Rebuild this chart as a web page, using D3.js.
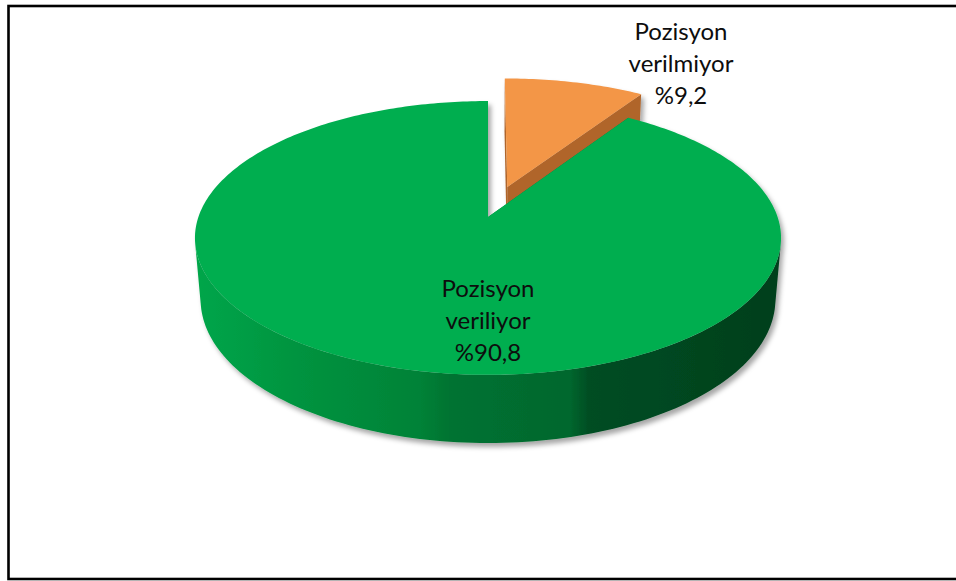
<!DOCTYPE html>
<html>
<head>
<meta charset="utf-8">
<script src="https://cdn.jsdelivr.net/npm/d3@7"></script>
<style>
  html, body { margin: 0; padding: 0; background: #fff; }
  svg { display: block; }
</style>
</head>
<body>
<svg id="chart" width="956" height="581"></svg>
<script>
// Share of answers, in draw order (clockwise from 12 o'clock)
const categories = ["Pozisyon verilmiyor", "Pozisyon veriliyor"];
const nameLines = [["Pozisyon", "verilmiyor"], ["Pozisyon", "veriliyor"]];
const values = [9.2, 90.8];
const exploded = [true, false];

const W = 956, H = 581;
const svg = d3.select("#chart");

// Colours per slice: top face, radial cut face, outer side
const topColor = ["#F39646", "#00AE50"];
const cutColor = ["#B0652C", "#007A36"];

// 3D disc geometry with a simple perspective camera
const geo = {
  cx: 488, cy: 217,      // screen position of the disc centre
  R: 289.6,              // disc radius
  tilt: Math.asin(0.4617),
  dist: 1679,            // camera distance
  depth: 70,             // disc thickness
  explode: 70            // pull-out distance of exploded slice
};
const ct = Math.cos(geo.tilt), st = Math.sin(geo.tilt);

// world (u: right, v: toward viewer, w: up) -> screen
function proj(u, v, w) {
  const d = v * ct + w * st;
  const s = geo.dist / (geo.dist - d);
  return [geo.cx + u * s, geo.cy + (v * st - w * ct) * s];
}
// point on the disc at angle a (clockwise from 12 o'clock), radius r, height w
function pt(a, r, w, off) {
  return proj(off[0] + r * Math.sin(a), off[1] - r * Math.cos(a), w);
}

const pie = d3.pie().sort(null).value(d => d).startAngle(0).endAngle(2 * Math.PI);
const arcs = pie(values);

const line = d3.line();

// outer frame
svg.append("rect")
  .attr("x", 8.5).attr("y", 6)
  .attr("width", 955).attr("height", 573)
  .attr("fill", "none").attr("stroke", "#000").attr("stroke-width", 2.6);

const defs = svg.append("defs");
const f = defs.append("filter").attr("id", "shadow")
  .attr("x", "-10%").attr("y", "-10%").attr("width", "120%").attr("height", "130%");
f.append("feDropShadow")
  .attr("dx", 3).attr("dy", 4).attr("stdDeviation", 2.5)
  .attr("flood-color", "#000").attr("flood-opacity", 0.35);

// shading along the green outer side, light on the left, dark on the right
const sideGrad = defs.append("linearGradient").attr("id", "sideGreen")
  .attr("gradientUnits", "userSpaceOnUse")
  .attr("x1", 195).attr("x2", 781).attr("y1", 0).attr("y2", 0);
[[0, "#00A64A"], [0.18, "#00933F"], [0.384, "#008237"], [0.435, "#007331"],
 [0.64, "#00672E"], [0.672, "#004D23"], [1, "#003F1C"]]
  .forEach(([o, c]) => sideGrad.append("stop").attr("offset", o).attr("stop-color", c));
const sideFill = ["#B0652C", "url(#sideGreen)"];

const pieG = svg.append("g").attr("filter", "url(#shadow)");

// outer side is visible where cos(a) < -R / (dist * cos(tilt))
const visLimit = Math.acos(-geo.R / (geo.dist * ct));
const visA0 = visLimit, visA1 = 2 * Math.PI - visLimit;

// back slices first: order by depth of slice midpoint
const order = arcs.map((d, i) => i)
  .sort((i, j) => {
    const mi = (arcs[i].startAngle + arcs[i].endAngle) / 2;
    const mj = (arcs[j].startAngle + arcs[j].endAngle) / 2;
    return (-Math.cos(mi)) - (-Math.cos(mj));
  });

order.forEach(i => {
  const d = arcs[i];
  const mid = (d.startAngle + d.endAngle) / 2;
  const e = exploded[i] ? geo.explode : 0;
  const off = [e * Math.sin(mid), -e * Math.cos(mid)];
  const g = pieG.append("g").attr("class", "slice");
  const Hd = -geo.depth;

  // outer curved side (front-facing part only)
  const s0 = Math.max(d.startAngle, visA0), s1 = Math.min(d.endAngle, visA1);
  if (s1 > s0) {
    const n = 120;
    const topPts = d3.range(n + 1).map(k => pt(s0 + (s1 - s0) * k / n, geo.R, 0, off));
    const botPts = d3.range(n + 1).map(k => pt(s1 - (s1 - s0) * k / n, geo.R, Hd, off));
    g.append("path").attr("d", line(topPts.concat(botPts)) + "Z")
      .attr("fill", sideFill[i]);
  }

  // radial cut faces
  [d.startAngle, d.endAngle].forEach(a => {
    if (d.endAngle - d.startAngle >= 2 * Math.PI - 1e-9) return;
    const quad = [pt(a, 0, 0, off), pt(a, geo.R, 0, off), pt(a, geo.R, Hd, off), pt(a, 0, Hd, off)];
    g.append("path").attr("d", line(quad) + "Z").attr("fill", cutColor[i]);
  });

  // top face
  const n = Math.max(8, Math.ceil((d.endAngle - d.startAngle) * 60));
  const rim = d3.range(n + 1).map(k => pt(d.startAngle + (d.endAngle - d.startAngle) * k / n, geo.R, 0, off));
  const topPath = [pt(0, 0, 0, off)].concat(rim);
  g.append("path").attr("d", line(topPath) + "Z").attr("fill", topColor[i]);
});

// data labels
const fmt = v => "%" + String(v).replace(".", ",");
const labelPos = [[681, 40], [488, 297]];   // baseline of first line
const lineGap = 32;
values.forEach((v, i) => {
  const lines = nameLines[i].concat([fmt(v)]);
  const t = svg.append("text")
    .attr("text-anchor", "middle")
    .attr("font-family", "Lato, 'Open Sans', sans-serif")
    .attr("font-size", 24)
    .attr("fill", "#0D0D0D");
  lines.forEach((s, k) => {
    t.append("tspan").attr("x", labelPos[i][0]).attr("y", labelPos[i][1] + k * lineGap).text(s);
  });
});
</script>
</body>
</html>
